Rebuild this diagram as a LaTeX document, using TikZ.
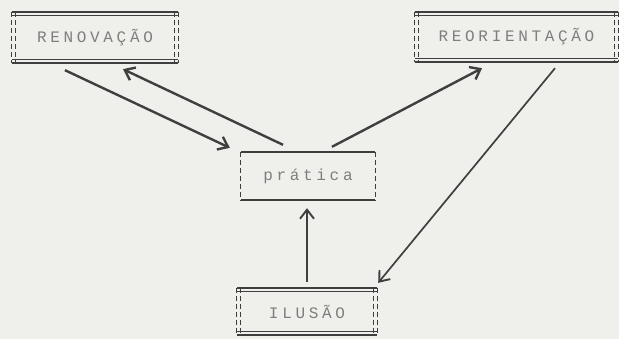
\documentclass[tikz,border=0pt]{standalone}
\usepackage{fontspec}
\setmonofont{Liberation Mono}
\newfontfamily\dotfont[LetterSpace=23]{Liberation Mono}
\usetikzlibrary{arrows.meta,calc}
\definecolor{paper}{HTML}{EFEFEC}
\definecolor{ink}{HTML}{3F3F3F}
\definecolor{txt}{HTML}{7E7E7E}
\tikzset{
  boxnode/.style={minimum width=#1, inner sep=0pt, text=txt, font=\dotfont\fontsize{16}{18}\selectfont},
  edge/.style={draw=ink, line width=1.5pt},
  sidedash/.style={draw=ink, line width=1.1pt, dash pattern=on 5pt off 3pt},
  arr/.style={draw=ink, line width=2.4pt, -{Straight Barb[length=9pt,width=14pt,line width=2.4pt]}},
  thinarr/.style={draw=ink, line width=1.7pt, -{Straight Barb[length=9pt,width=14pt,line width=1.9pt]}},
}
\newcommand{\dblbox}[1]{%
  \draw[edge] (#1.north west) -- (#1.north east);
  \draw[edge] ([yshift=-3.5pt]#1.north west) -- ([yshift=-3.5pt]#1.north east);
  \draw[edge] (#1.south west) -- (#1.south east);
  \draw[edge] ([yshift=3.5pt]#1.south west) -- ([yshift=3.5pt]#1.south east);
  \draw[sidedash] (#1.north west) -- (#1.south west);
  \draw[sidedash] ([xshift=3.5pt]#1.north west) -- ([xshift=3.5pt]#1.south west);
  \draw[sidedash] (#1.north east) -- (#1.south east);
  \draw[sidedash] ([xshift=-3.5pt]#1.north east) -- ([xshift=-3.5pt]#1.south east);
}
\begin{document}
\begin{tikzpicture}[x=1pt,y=-1pt]
\fill[paper] (0,0) rectangle (619,339);
\useasboundingbox (0,0) rectangle (619,339);
\node[boxnode=166pt, minimum height=51pt] (ren) at (95,37.5) {RENOVAÇÃO};
\node[boxnode=203pt, minimum height=50pt] (reo) at (516.5,37) {REORIENTAÇÃO};
\node[boxnode=134pt, minimum height=48pt] (pra) at (308,176) {prática};
\node[boxnode=140pt, minimum height=47pt] (ilu) at (307,311.5) {ILUSÃO};
\dblbox{ren}
\dblbox{reo}
\dblbox{ilu}
\draw[edge] (pra.north west) -- (pra.north east);
\draw[edge] (pra.south west) -- (pra.south east);
\draw[sidedash] (pra.north west) -- (pra.south west);
\draw[sidedash] (pra.north east) -- (pra.south east);
\draw[arr] ([xshift=-30pt,yshift=-7pt]ren.south) -- ([xshift=-11pt,yshift=4pt]pra.north west);
\draw[arr] ([xshift=-25pt,yshift=7pt]pra.north) -- ([xshift=28pt,yshift=-6pt]ren.south);
\draw[arr] ([xshift=24pt,yshift=5pt]pra.north) -- ([xshift=-34.5pt,yshift=-6pt]reo.south);
\draw[thinarr] ([xshift=38.5pt,yshift=-6pt]reo.south) -- ([xshift=1pt,yshift=5pt]ilu.north east);
\draw[thinarr] ([yshift=6pt]ilu.north) -- ([xshift=-1pt,yshift=-8pt]pra.south);
\end{tikzpicture}
\end{document}
